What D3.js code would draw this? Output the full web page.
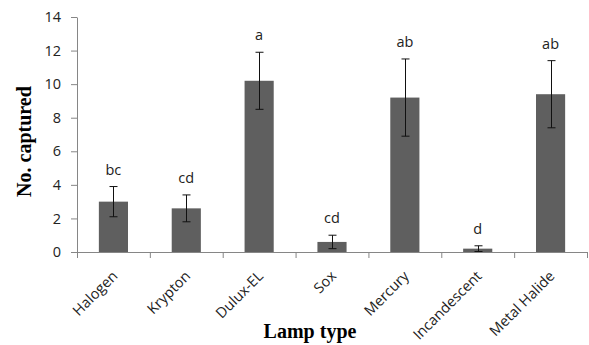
<!DOCTYPE html>
<html>
<head>
<meta charset="utf-8">
<script src="https://cdn.jsdelivr.net/npm/d3@7"></script>
<style>
  body { margin: 0; background: #fff; }
  svg { display: block; }
</style>
</head>
<body>
<svg width="589" height="345"></svg>
<script>
const lampTypes = ['Halogen', 'Krypton', 'Dulux-EL', 'Sox', 'Mercury', 'Incandescent', 'Metal Halide'];
const meanCaptured = [3.0, 2.6, 10.2, 0.6, 9.2, 0.2, 9.4];
const stdError = [0.9, 0.8, 1.7, 0.4, 2.3, 0.17, 2.0];
const groupLetters = ['bc', 'cd', 'a', 'cd', 'ab', 'd', 'ab'];
const yTicks = [0, 2, 4, 6, 8, 10, 12, 14];

const svg = d3.select('svg');
const plotLeft = 77, plotRight = 587, plotTop = 17, plotBottom = 252;
const axisColor = '#868686';
const sans = '"Open Sans", sans-serif';
const labelSize = '14.5px';

const rows = lampTypes.map((name, i) => ({
  name, mean: meanCaptured[i], se: stdError[i], letter: groupLetters[i]
}));

const x = d3.scaleBand()
  .domain(lampTypes)
  .range([plotLeft, plotRight])
  .paddingInner(0.6)
  .paddingOuter(0.3);

const y = d3.scaleLinear().domain([0, 14]).range([plotBottom, plotTop]);

// boundary ticks between categories
const xEdge = d3.scaleLinear().domain([0, lampTypes.length]).range([plotLeft, plotRight]);

const yAxis = svg.append('g')
  .attr('transform', `translate(${plotLeft},0)`)
  .call(d3.axisLeft(y).tickValues(yTicks).tickSize(6).tickSizeOuter(0).tickPadding(10));

const xAxis = svg.append('g')
  .attr('transform', `translate(0,${plotBottom})`)
  .call(d3.axisBottom(xEdge).tickValues(d3.range(lampTypes.length + 1))
    .tickSize(6).tickSizeOuter(0).tickFormat(''));

[yAxis, xAxis].forEach(g => {
  g.selectAll('path, line').attr('stroke', axisColor);
});
yAxis.selectAll('text')
  .style('font-family', sans)
  .style('font-size', labelSize)
  .attr('fill', '#222');

// bars
svg.append('g')
  .selectAll('rect')
  .data(rows)
  .join('rect')
  .attr('x', d => x(d.name))
  .attr('width', x.bandwidth())
  .attr('y', d => y(d.mean))
  .attr('height', d => y(0) - y(d.mean))
  .attr('fill', '#5f5f5f');

// error bars
const cap = 4;
const err = svg.append('g')
  .attr('stroke', '#111')
  .attr('stroke-width', 1);
rows.forEach(d => {
  const cx = Math.round(x(d.name) + x.bandwidth() / 2) + 0.5;
  const yHi = y(d.mean + d.se), yLo = y(Math.max(0, d.mean - d.se));
  err.append('line').attr('x1', cx).attr('x2', cx).attr('y1', yHi).attr('y2', yLo);
  err.append('line').attr('x1', cx - cap).attr('x2', cx + cap).attr('y1', yHi).attr('y2', yHi);
  err.append('line').attr('x1', cx - cap).attr('x2', cx + cap).attr('y1', yLo).attr('y2', yLo);
});

// significance letters
svg.append('g')
  .selectAll('text')
  .data(rows)
  .join('text')
  .attr('x', d => x(d.name) + x.bandwidth() / 2)
  .attr('y', d => y(d.mean + d.se) - 12)
  .attr('text-anchor', 'middle')
  .style('font-family', sans)
  .style('font-size', labelSize)
  .attr('fill', '#222')
  .text(d => d.letter);

// rotated category labels
svg.append('g')
  .selectAll('text')
  .data(rows)
  .join('text')
  .attr('transform', d => `translate(${x(d.name) + x.bandwidth() / 2 + 5},${plotBottom + 25}) rotate(-45)`)
  .attr('text-anchor', 'end')
  .style('font-family', sans)
  .style('font-size', labelSize)
  .attr('fill', '#222')
  .text(d => d.name);

// axis titles
svg.append('text')
  .attr('x', 310)
  .attr('y', 338)
  .attr('text-anchor', 'middle')
  .style('font-family', '"Liberation Serif", "Times New Roman", serif')
  .style('font-weight', 'bold')
  .style('font-size', '20px')
  .text('Lamp type');

svg.append('text')
  .attr('transform', `translate(31,${(plotTop + plotBottom) / 2 + 7}) rotate(-90)`)
  .attr('text-anchor', 'middle')
  .style('font-family', '"Liberation Serif", "Times New Roman", serif')
  .style('font-weight', 'bold')
  .style('font-size', '20px')
  .text('No. captured');
</script>
</body>
</html>
